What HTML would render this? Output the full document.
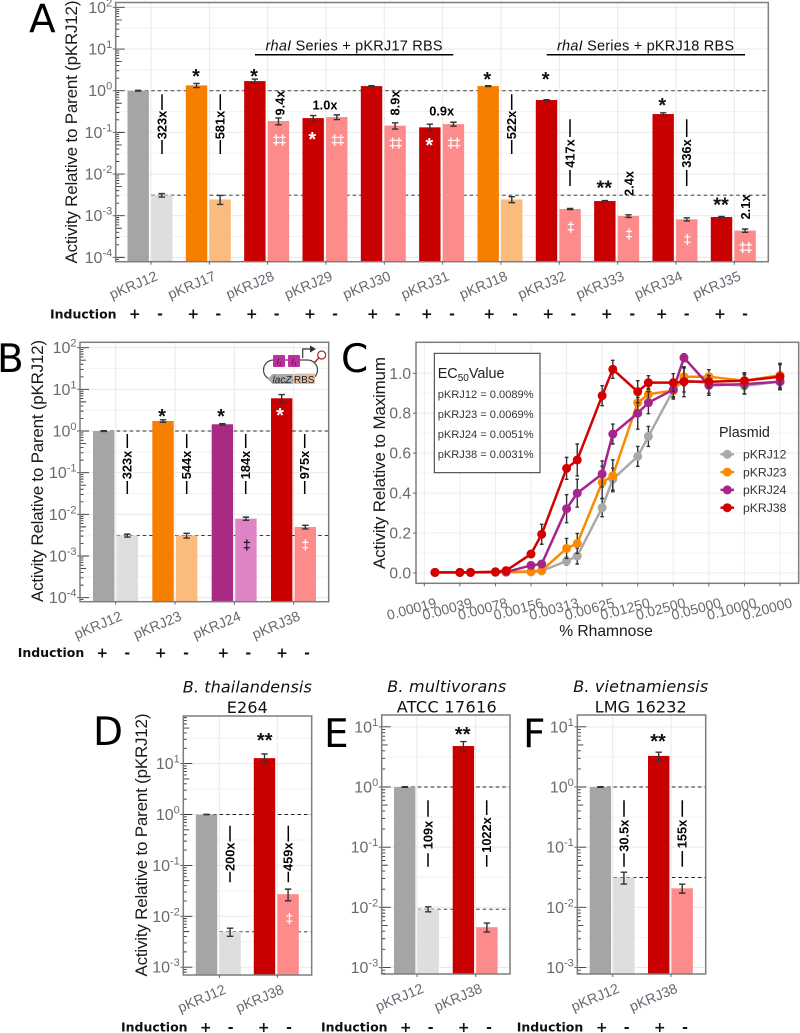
<!DOCTYPE html>
<html lang="en">
<head>
<meta charset="utf-8">
<title>Activity relative to parent, panels A–F</title>
<style>
html,body{margin:0;padding:0;background:#fff;width:800px;height:1033px;overflow:hidden}
svg{display:block;font-family:"Liberation Sans",sans-serif;filter:blur(0.3px)}
.letter{font-family:"DejaVu Sans",sans-serif;font-size:39px;fill:#000}
.ind{font-family:"DejaVu Sans",sans-serif;font-weight:700;font-size:12.5px;fill:#111}
.sign{font-family:"DejaVu Sans",sans-serif;font-weight:700;font-size:14px;fill:#111;text-anchor:middle}
.fold{font-weight:700;font-size:12.8px;fill:#000;text-anchor:middle}
.foldline{fill:none;stroke:#000;stroke-width:1.5}
.star{font-weight:700;font-size:20px;fill:#111;text-anchor:middle}
.wstar{font-weight:700;font-size:20px;fill:#fff;text-anchor:middle}
.dag{font-weight:700;font-size:14px;fill:#fff;text-anchor:middle;letter-spacing:-1.5px}
.ytitle{font-size:17px;fill:#1a1a1a;text-anchor:middle}
.series{font-size:14.5px;fill:#111;text-anchor:middle}
.head{font-family:"DejaVu Sans",sans-serif;font-size:16px;fill:#111;text-anchor:middle}
.headi{font-style:italic}
.ec{font-size:11.1px;fill:#333}
</style>
</head>
<body>
<svg id="figure" xmlns="http://www.w3.org/2000/svg" width="800" height="1033" viewBox="0 0 800 1033">
  <rect x="0" y="0" width="800" height="1033" fill="#fff"/>
  <g id="layer-panels"></g>

  <g>
    <text class="letter" x="29" y="32.5">A</text>
    <text class="letter" x="-3" y="372">B</text>
    <text class="letter" x="341" y="372">C</text>
    <text class="letter" x="93" y="745">D</text>
    <text class="letter" x="324" y="747">E</text>
    <text class="letter" x="523" y="747">F</text>
  </g>

  <g>
    <text class="ytitle" transform="rotate(-90 77 132)" x="77" y="132" textLength="263">Activity Relative to Parent (pKRJ12)</text>
    <text class="ytitle" transform="rotate(-90 43 471)" x="43" y="471" textLength="262">Activity Relative to Parent (pKRJ12)</text>
    <text class="ytitle" transform="rotate(-90 385 463)" x="385" y="463" textLength="212">Activity Relative to Maximum</text>
    <text class="ytitle" transform="rotate(-90 147 845)" x="147" y="845" textLength="263">Activity Relative to Parent (pKRJ12)</text>
    <text class="ytitle" style="font-size:15.6px" x="606" y="636">% Rhamnose</text>
  </g>

  <g>
    <text class="series" x="354" y="50.5" textLength="177"><tspan font-style="italic">rhaI</tspan> Series + pKRJ17 RBS</text>
    <path d="M255 54.7H453.3" stroke="#000" stroke-width="1.5" fill="none"/>
    <text class="series" x="645.5" y="50.5" textLength="177"><tspan font-style="italic">rhaI</tspan> Series + pKRJ18 RBS</text>
    <path d="M546.7 54.7H745" stroke="#000" stroke-width="1.5" fill="none"/>
  </g>

  <g>
    <text class="head headi" x="247.3" y="692.5" textLength="129">B. thailandensis</text>
    <text class="head" x="247.3" y="713" textLength="41">E264</text>
    <text class="head headi" x="446.7" y="692" textLength="119">B. multivorans</text>
    <text class="head" x="446.7" y="712.5" textLength="100">ATCC 17616</text>
    <text class="head headi" x="640.7" y="692" textLength="135">B. vietnamiensis</text>
    <text class="head" x="640.7" y="712.5" textLength="92">LMG 16232</text>
  </g>

  <g>
    <path class="foldline" d="M162 94.3V110M162 140V154"/>
    <text class="fold" transform="rotate(-90 166.3 125)" x="166.3" y="125">323x</text>
    <path class="foldline" d="M220.3 94.3V110M220.3 140V154"/>
    <text class="fold" transform="rotate(-90 224.6 125)" x="224.6" y="125">581x</text>
    <text class="fold" transform="rotate(-90 284.3 103)" x="284.3" y="103">9.4x</text>
    <text class="fold" x="325" y="109.5">1.0x</text>
    <text class="fold" transform="rotate(-90 399.3 103)" x="399.3" y="103">8.9x</text>
    <text class="fold" x="441.7" y="115.5">0.9x</text>
    <path class="foldline" d="M511.7 94.3V110M511.7 140V154"/>
    <text class="fold" transform="rotate(-90 516 125)" x="516" y="125">522x</text>
    <path class="foldline" d="M570 119.3V137M570 170V186"/>
    <text class="fold" transform="rotate(-90 574.3 153.5)" x="574.3" y="153.5">417x</text>
    <text class="fold" transform="rotate(-90 633.3 183.5)" x="633.3" y="183.5">2.4x</text>
    <path class="foldline" d="M686.7 119.3V137M686.7 170V186"/>
    <text class="fold" transform="rotate(-90 691 153.5)" x="691" y="153.5">336x</text>
    <text class="fold" transform="rotate(-90 750 207)" x="750" y="207">2.1x</text>

    <path class="foldline" d="M127.3 434V448M127.3 481V494"/>
    <text class="fold" transform="rotate(-90 131.6 465)" x="131.6" y="465">323x</text>
    <path class="foldline" d="M186.7 434V448M186.7 481V494"/>
    <text class="fold" transform="rotate(-90 191 465)" x="191" y="465">544x</text>
    <path class="foldline" d="M245.7 434V448M245.7 481V494"/>
    <text class="fold" transform="rotate(-90 250 465)" x="250" y="465">184x</text>
    <path class="foldline" d="M304.7 434V448M304.7 481V494"/>
    <text class="fold" transform="rotate(-90 309 465)" x="309" y="465">975x</text>

    <path class="foldline" d="M230 825.7V841.5M230 871.7V882.3"/>
    <text class="fold" transform="rotate(-90 234.3 856.7)" x="234.3" y="856.7">200x</text>
    <path class="foldline" d="M288.3 825.7V841.5M288.3 871.7V882.3"/>
    <text class="fold" transform="rotate(-90 292.6 856.7)" x="292.6" y="856.7">459x</text>

    <path class="foldline" d="M428 800.3V816.7M428 853.3V866.7"/>
    <text class="fold" transform="rotate(-90 432.3 835)" x="432.3" y="835">109x</text>
    <path class="foldline" d="M486.7 800.3V815M486.7 855V866.7"/>
    <text class="fold" transform="rotate(-90 491 835)" x="491" y="835">1022x</text>

    <path class="foldline" d="M624 800.3V816.7M624 853.3V866.7"/>
    <text class="fold" transform="rotate(-90 628.3 835.7)" x="628.3" y="835.7">30.5x</text>
    <path class="foldline" d="M682.3 800.3V816.7M682.3 851V866.7"/>
    <text class="fold" transform="rotate(-90 686.6 834)" x="686.6" y="834">155x</text>
  </g>

  <g>
    <text class="star" x="196" y="83">*</text>
    <text class="star" x="254" y="83">*</text>
    <text class="wstar" x="312.3" y="146">*</text>
    <text class="wstar" x="429.3" y="152">*</text>
    <text class="star" x="487.3" y="86">*</text>
    <text class="star" x="545.7" y="86">*</text>
    <text class="star" x="604.3" y="194.5">**</text>
    <text class="star" x="662.3" y="112">*</text>
    <text class="star" x="721" y="211.5">**</text>
    <text class="star" x="162" y="423">*</text>
    <text class="star" x="221" y="423">*</text>
    <text class="wstar" x="280" y="422">*</text>
    <text class="star" x="264.7" y="747">**</text>
    <text class="star" x="462.7" y="741">**</text>
    <text class="star" x="658" y="748">**</text>

    <text class="dag" x="278.7" y="144.5">‡‡</text>
    <text class="dag" x="337" y="144.5">‡‡</text>
    <text class="dag" x="395" y="147.5">‡‡</text>
    <text class="dag" x="453.3" y="147.5">‡‡</text>
    <text class="dag" x="570" y="231.5">‡</text>
    <text class="dag" x="628.3" y="238.5">‡</text>
    <text class="dag" x="686.7" y="244">‡</text>
    <text class="dag" x="745" y="252">‡‡</text>
    <text class="dag" style="fill:#111" x="246" y="549.5">‡</text>
    <text class="dag" x="304.7" y="549.5">‡</text>
    <text class="dag" x="288.7" y="923">‡</text>
  </g>

  <g>
    <text class="ind" x="50" y="318.5">Induction</text>
    <text class="sign" x="134.7" y="318.7">+</text><text class="sign" x="160" y="318.7">-</text>
    <text class="sign" x="193.3" y="318.7">+</text><text class="sign" x="218.3" y="318.7">-</text>
    <text class="sign" x="251.7" y="318.7">+</text><text class="sign" x="276.7" y="318.7">-</text>
    <text class="sign" x="310" y="318.7">+</text><text class="sign" x="335" y="318.7">-</text>
    <text class="sign" x="372.7" y="318.7">+</text><text class="sign" x="397.7" y="318.7">-</text>
    <text class="sign" x="426.7" y="318.7">+</text><text class="sign" x="452" y="318.7">-</text>
    <text class="sign" x="489.3" y="318.7">+</text><text class="sign" x="515" y="318.7">-</text>
    <text class="sign" x="548.3" y="318.7">+</text><text class="sign" x="573.3" y="318.7">-</text>
    <text class="sign" x="606.7" y="318.7">+</text><text class="sign" x="632.3" y="318.7">-</text>
    <text class="sign" x="661.7" y="318.7">+</text><text class="sign" x="686.7" y="318.7">-</text>
    <text class="sign" x="720" y="318.7">+</text><text class="sign" x="745" y="318.7">-</text>
  </g>
  <g>
    <text class="ind" x="17.7" y="657">Induction</text>
    <text class="sign" x="102.3" y="657.3">+</text><text class="sign" x="127.3" y="657.3">-</text>
    <text class="sign" x="160.7" y="657.3">+</text><text class="sign" x="186" y="657.3">-</text>
    <text class="sign" x="223.3" y="657.3">+</text><text class="sign" x="248.3" y="657.3">-</text>
    <text class="sign" x="282" y="657.3">+</text><text class="sign" x="307" y="657.3">-</text>
  </g>
  <g>
    <text class="ind" x="121" y="1031.5">Induction</text>
    <text class="sign" x="205.7" y="1032">+</text><text class="sign" x="230.7" y="1032">-</text>
    <text class="sign" x="263.7" y="1032">+</text><text class="sign" x="289" y="1032">-</text>
  </g>
  <g>
    <text class="ind" x="321" y="1031.5">Induction</text>
    <text class="sign" x="405.7" y="1032">+</text><text class="sign" x="430.7" y="1032">-</text>
    <text class="sign" x="463.7" y="1032">+</text><text class="sign" x="489" y="1032">-</text>
  </g>
  <g>
    <text class="ind" x="516.7" y="1031.5">Induction</text>
    <text class="sign" x="601.7" y="1032">+</text><text class="sign" x="626.7" y="1032">-</text>
    <text class="sign" x="659.7" y="1032">+</text><text class="sign" x="685" y="1032">-</text>
  </g>

  <g>
    <rect x="263.5" y="360" width="54" height="20" rx="10" fill="none" stroke="#444" stroke-width="1.2"/>
    <rect x="273" y="355" width="12" height="12" rx="1" fill="#bf2f9f"/>
    <text x="279" y="364.5" font-size="8" font-style="italic" text-anchor="middle" fill="#222">I₁</text>
    <rect x="288" y="355" width="12" height="12" rx="1" fill="#bf2f9f"/>
    <text x="294" y="364.5" font-size="8" font-style="italic" text-anchor="middle" fill="#222">I₁</text>
    <path d="M302.7 358V349H311" fill="none" stroke="#333" stroke-width="1.2"/>
    <path d="M310 345.5L316 349L310 352.5Z" fill="#333"/>
    <circle cx="321.7" cy="355" r="4" fill="#fff" stroke="#a32a2a" stroke-width="1.2"/>
    <path d="M318.8 358L314.5 362.5" fill="none" stroke="#a32a2a" stroke-width="1.5"/>
    <path d="M267.5 379L272.5 374H293V384H272.5Z" fill="#ababab"/>
    <text x="282" y="383" font-size="10" font-style="italic" text-anchor="middle" fill="#222">lacZ</text>
    <rect x="293.5" y="373.5" width="21.5" height="10.5" rx="1.5" fill="#dcbfa5"/>
    <text x="304.2" y="383" font-size="10" text-anchor="middle" fill="#222">RBS</text>
  </g>

  <g id="layer-inset">
    <rect x="434.3" y="353.3" width="105.7" height="119.4" fill="#fff" stroke="#333" stroke-width="1"/>
    <text x="437.7" y="378" font-size="14.4" fill="#222">EC<tspan font-size="10" dy="3">50</tspan><tspan dy="-3">Value</tspan></text>
    <text class="ec" x="437.7" y="398">pKRJ12 = 0.0089%</text>
    <text class="ec" x="437.7" y="418">pKRJ23 = 0.0069%</text>
    <text class="ec" x="437.7" y="438">pKRJ24 = 0.0051%</text>
    <text class="ec" x="437.7" y="458">pKRJ38 = 0.0031%</text>
  </g>
  <g id="layer-legend">
    <text x="719" y="437" font-size="14.3" fill="#222">Plasmid</text>
  </g>
</svg>

<script>
/* ---------- Panel A data ---------- */
const panelACategories = ["pKRJ12","pKRJ17","pKRJ28","pKRJ29","pKRJ30","pKRJ31","pKRJ18","pKRJ32","pKRJ33","pKRJ34","pKRJ35"];
const panelAInduced = [1.0,1.34,1.70,0.22,1.29,0.132,1.29,0.597,0.00225,0.275,0.00093];
const panelAUninduced = [0.0031,0.00246,0.187,0.233,0.145,0.158,0.00246,0.00145,0.00098,0.00082,0.00044];
const panelAInducedErr = [0.02,0.15,0.2,0.033,0.03,0.025,0.03,0.012,0.00006,0.02,0.00003];
const panelAUninducedErr = [0.0003,0.0006,0.035,0.03,0.025,0.017,0.0004,0.00004,0.00007,0.00007,0.00004];
const panelAExponents = [2,1,0,-1,-2,-3,-4];
const panelAColors = ["gray","orange","red","red","red","red","orange","red","red","red","red"];

/* ---------- Panel B data ---------- */
const panelBCategories = ["pKRJ12","pKRJ23","pKRJ24","pKRJ38"];
const panelBInduced = [1.0,1.74,1.45,6.1];
const panelBUninduced = [0.0031,0.0031,0.00787,0.00496];
const panelBInducedErr = [0.02,0.12,0.05,1.4];
const panelBUninducedErr = [0.00025,0.0004,0.0007,0.0005];
const panelBExponents = [2,1,0,-1,-2,-3,-4];
const panelBColors = ["gray","orange","purple","red"];

/* ---------- Panel C data ---------- */
const doseLabels = ["0.00019","0.00039","0.00078","0.00156","0.00313","0.00625","0.01250","0.02500","0.05000","0.10000","0.20000"];
const doseSteps = [0.3,1,1.3,2,2.3,3,3.3,4,4.3,5,5.3,6,6.3,7,7.3,8,9,10];
const activityTicks = [0,0.2,0.4,0.6,0.8,1.0];
const plasmidNames = ["pKRJ12","pKRJ23","pKRJ24","pKRJ38"];
const activityPKRJ12 = [.003,.003,.003,.003,.004,.005,.01,.06,.085,.327,.47,.584,.684,.916,.966,.95,.937,.958];
const activityPKRJ23 = [.003,.003,.003,.004,.005,.008,.012,.123,.148,.454,.487,.853,.895,.913,.983,.983,.963,.99];
const activityPKRJ24 = [.003,.003,.003,.005,.005,.038,.045,.322,.40,.496,.696,.80,.853,.918,1.078,.94,.946,.958];
const activityPKRJ38 = [.003,.003,.003,.006,.012,.095,.194,.524,.566,.888,1.02,.908,.953,.953,.958,.958,.963,.983];
const errorPKRJ12 = [0,0,0,0,0,0,.005,.02,.04,.045,.055,.05,.05,.045,.06,.05,.04,.04];
const errorPKRJ23 = [0,0,0,.002,.002,.005,.005,.05,.05,.08,.08,.06,.03,.03,.045,.035,.03,.06];
const errorPKRJ24 = [0,0,0,.003,.003,.01,.01,.07,.07,.065,.05,.08,.055,.04,.02,.05,.05,.04];
const errorPKRJ38 = [0,0,0,.003,.004,.01,.05,.055,.08,.05,.045,.055,.035,.045,.075,.03,.04,.06];

/* ---------- Panels D, E, F data ---------- */
const panelDCategories = ["pKRJ12","pKRJ38"];
const panelDInduced = [1.0,12.8];
const panelDUninduced = [0.00495,0.0272];
const panelDInducedErr = [0.01,2.7];
const panelDUninducedErr = [0.0009,0.007];
const panelDExponents = [1,0,-1,-2,-3];

const panelECategories = ["pKRJ12","pKRJ38"];
const panelEInduced = [1.0,4.8];
const panelEUninduced = [0.0093,0.00467];
const panelEInducedErr = [0.01,0.9];
const panelEUninducedErr = [0.0009,0.0008];
const panelEExponents = [1,0,-1,-2,-3];

const panelFCategories = ["pKRJ12","pKRJ38"];
const panelFInduced = [1.0,3.29];
const panelFUninduced = [0.0313,0.0207];
const panelFInducedErr = [0.01,0.5];
const panelFUninducedErr = [0.007,0.0035];
const panelFExponents = [1,0,-1,-2,-3];
const twoBarColors = ["gray","red"];

/* ---------- styling ---------- */
const barFill = {
  gray:   {on:"#a5a5a5", off:"#dedede"},
  orange: {on:"#f67f00", off:"#fbbb7d"},
  red:    {on:"#c80000", off:"#fd8b8b"},
  purple: {on:"#a92a85", off:"#de84c5"}
};
const lineColor = {pKRJ12:"#a9a9a9", pKRJ23:"#fb8a00", pKRJ24:"#a8248c", pKRJ38:"#d40000"};
const NS = "http://www.w3.org/2000/svg";
const panelsLayer = document.getElementById("layer-panels");

function make(tag, attrs, parent) {
  const node = document.createElementNS(NS, tag);
  for (const key in attrs) node.setAttribute(key, attrs[key]);
  parent.appendChild(node);
  return node;
}

function drawFrame(group, p, key) {
  const border = make("rect", {x:p.left, y:p.top, width:p.right-p.left, height:p.bottom-p.top, fill:"none", stroke:"#7d7d7d", "stroke-width":1.5}, group);
  
  
}

function errorBar(group, x, yHi, yLo, cap, key) {
  const bar = make("path", {d:"M"+(x-cap)+" "+yHi+"H"+(x+cap)+"M"+x+" "+yHi+"V"+yLo+"M"+(x-cap)+" "+yLo+"H"+(x+cap), fill:"none", stroke:"#333", "stroke-width":1.4}, group);
  
  
}

function drawBarPanel(p) {
  const group = make("g", {}, panelsLayer);
  
  

  const yScale = v => p.yOne - p.decade * Math.log10(v);
  const xScale = i => p.x0 + i * p.step;
  const inside = y => y >= p.top && y <= p.bottom;

  /* minor and major grid */
  let minor = "", major = "";
  for (let d = -6; d <= 3; d++) {
    const yMid = yScale(Math.pow(10, d + 0.5));
    if (inside(yMid)) minor += "M"+p.left+" "+yMid+"H"+p.right;
  }
  p.exponents.forEach(e => { major += "M"+p.left+" "+yScale(Math.pow(10,e))+"H"+p.right; });
  p.categories.forEach((c,i) => { major += "M"+xScale(i)+" "+p.top+"V"+p.bottom; });
  const minorGrid = make("path", {d:minor, stroke:"#f3f3f3", "stroke-width":1, fill:"none"}, group);
  
  
  const majorGrid = make("path", {d:major, stroke:"#e9e9e9", "stroke-width":1, fill:"none"}, group);
  
  

  /* parent reference lines */
  const firstX = xScale(0) + p.onOffset;
  const refOn = make("path", {d:"M"+firstX+" "+yScale(p.induced[0])+"H"+p.right, stroke:p.refOnColor, "stroke-width":p.refOnWidth, "stroke-dasharray":"3.5 3", fill:"none"}, group);
  
  
  const refOff = make("path", {d:"M"+firstX+" "+yScale(p.uninduced[0])+"H"+p.right, stroke:"#222", "stroke-width":0.9, "stroke-dasharray":"3.5 3", fill:"none"}, group);
  
  

  /* bars and error bars */
  p.categories.forEach((cat, i) => {
    const cx1 = xScale(i) + p.onOffset;
    const cx2 = xScale(i) + p.offOffset;
    const y1 = yScale(p.induced[i]);
    const y2 = yScale(p.uninduced[i]);
    const barOn = make("rect", {x:cx1-10.7, y:y1, width:21.4, height:p.bottom-y1, fill:barFill[p.colors[i]].on}, group);
    
    
    const barOff = make("rect", {x:cx2-10.7, y:y2, width:21.4, height:p.bottom-y2, fill:barFill[p.colors[i]].off}, group);
    
    
    errorBar(group, cx1, yScale(p.induced[i]+p.inducedErr[i]), yScale(Math.max(p.induced[i]-p.inducedErr[i],1e-6)), 3.2, cat+"-induced");
    errorBar(group, cx2, yScale(p.uninduced[i]+p.uninducedErr[i]), yScale(Math.max(p.uninduced[i]-p.uninducedErr[i],1e-6)), 3.2, cat+"-uninduced");
  });

  /* log ticks inside the panel */
  let ticks = "";
  for (let d = -6; d <= 3; d++) {
    for (let m = 1; m <= 9; m++) {
      const y = yScale(m * Math.pow(10, d));
      if (!inside(y)) continue;
      const len = m === 1 ? 9 : (m === 5 ? 6 : 3.5);
      ticks += "M"+p.left+" "+y+"h"+len;
    }
  }
  const logTicks = make("path", {d:ticks, stroke:"#333", "stroke-width":0.9, fill:"none"}, group);
  
  

  drawFrame(group, p, p.key);

  /* y axis labels */
  p.exponents.forEach(e => {
    const y = yScale(Math.pow(10, e));
    const tick = make("path", {d:"M"+(p.left-3)+" "+y+"H"+p.left, stroke:"#666", "stroke-width":1, fill:"none"}, group);
    
    
    const label = make("text", {x:p.left-3.5, y:y+5.5, "text-anchor":"end", "font-size":16, fill:"#6a6a6a"}, group);
    
    
    const base = make("tspan", {}, label);
    base.textContent = "10";
    const sup = make("tspan", {"font-size":11, dy:-6.5}, label);
    sup.textContent = String(e);
  });

  /* x axis labels */
  p.categories.forEach((cat, i) => {
    const x = xScale(i);
    const tick = make("path", {d:"M"+x+" "+p.bottom+"v3", stroke:"#666", "stroke-width":1, fill:"none"}, group);
    
    
    const tx = x + 7.5, ty = p.bottom + 18;
    const label = make("text", {x:tx, y:ty, "text-anchor":"end", "font-size":14.2, fill:"#656a72", transform:"rotate(-23 "+tx+" "+ty+")"}, group);
    
    
    label.textContent = cat;
  });
}

drawBarPanel({key:"a", left:115.7, right:768.3, top:2.5, bottom:261.7, yOne:90.7, decade:41.67, x0:151, step:58.33, onOffset:-12.8, offOffset:10.8,
  categories:panelACategories, induced:panelAInduced, uninduced:panelAUninduced, inducedErr:panelAInducedErr, uninducedErr:panelAUninducedErr, exponents:panelAExponents, colors:panelAColors, refOnColor:"#555", refOnWidth:1.2});
drawBarPanel({key:"b", left:80, right:328.7, top:342.3, bottom:601.7, yOne:431, decade:41.67, x0:115.7, step:59.33, onOffset:-12, offOffset:11.6,
  categories:panelBCategories, induced:panelBInduced, uninduced:panelBUninduced, inducedErr:panelBInducedErr, uninducedErr:panelBUninducedErr, exponents:panelBExponents, colors:panelBColors, refOnColor:"#555", refOnWidth:1.2});
drawBarPanel({key:"d", left:183.3, right:311.7, top:716, bottom:975, yOne:814.5, decade:50.9, x0:219.3, step:58, onOffset:-12.8, offOffset:10.8,
  categories:panelDCategories, induced:panelDInduced, uninduced:panelDUninduced, inducedErr:panelDInducedErr, uninducedErr:panelDUninducedErr, exponents:panelDExponents, colors:twoBarColors, refOnColor:"#222", refOnWidth:0.9});
drawBarPanel({key:"e", left:381.7, right:510, top:715, bottom:974, yOne:787, decade:60.15, x0:417, step:58.7, onOffset:-12.3, offOffset:11.2,
  categories:panelECategories, induced:panelEInduced, uninduced:panelEUninduced, inducedErr:panelEInducedErr, uninducedErr:panelEUninducedErr, exponents:panelEExponents, colors:twoBarColors, refOnColor:"#222", refOnWidth:0.9});
drawBarPanel({key:"f", left:577.3, right:705.7, top:715, bottom:974, yOne:787, decade:60.15, x0:612.7, step:58.3, onOffset:-12.3, offOffset:11.2,
  categories:panelFCategories, induced:panelFInduced, uninduced:panelFUninduced, inducedErr:panelFInducedErr, uninducedErr:panelFUninducedErr, exponents:panelFExponents, colors:twoBarColors, refOnColor:"#222", refOnWidth:0.9});

/* ---------- Panel C dose-response chart ---------- */
(function drawDoseChart() {
  const p = {left:416, right:798.7, top:342.3, bottom:583.3};
  const xDose = step => 424.3 + 35.57 * step;
  const yActivity = v => 573 - 199.7 * v;
  const group = make("g", {}, panelsLayer);
  
  

  let minor = "", major = "";
  activityTicks.forEach((t, i) => {
    major += "M"+p.left+" "+yActivity(t)+"H"+p.right;
    if (i < activityTicks.length - 1) minor += "M"+p.left+" "+yActivity(t+0.1)+"H"+p.right;
  });
  doseLabels.forEach((d, i) => { major += "M"+xDose(i)+" "+p.top+"V"+p.bottom; });
  const minorGrid = make("path", {d:minor, stroke:"#f5f5f5", "stroke-width":1, fill:"none"}, group);
  
  
  const majorGrid = make("path", {d:major, stroke:"#ececec", "stroke-width":1, fill:"none"}, group);
  
  

  const seriesValues = [activityPKRJ12, activityPKRJ23, activityPKRJ24, activityPKRJ38];
  const seriesErrors = [errorPKRJ12, errorPKRJ23, errorPKRJ24, errorPKRJ38];
  plasmidNames.forEach((name, s) => {
    const values = seriesValues[s];
    const errors = seriesErrors[s];
    values.forEach((v, i) => {
      if (errors[i] > 0) errorBar(group, xDose(doseSteps[i]), yActivity(v+errors[i]), yActivity(v-errors[i]), 1.8, name+"-"+i);
    });
    const pts = values.map((v, i) => xDose(doseSteps[i]) + "," + yActivity(v)).join(" ");
    const line = make("polyline", {points:pts, fill:"none", stroke:lineColor[name], "stroke-width":2.5, "stroke-linejoin":"round"}, group);
    
    
    values.forEach((v, i) => {
      const dot = make("circle", {cx:xDose(doseSteps[i]), cy:yActivity(v), r:4.5, fill:lineColor[name]}, group);
      
      
    });
  });

  drawFrame(group, p, "c");

  activityTicks.forEach(t => {
    const y = yActivity(t);
    const tick = make("path", {d:"M"+(p.left-3)+" "+y+"H"+p.left, stroke:"#666", "stroke-width":1, fill:"none"}, group);
    
    
    const label = make("text", {x:p.left-5, y:y+5.5, "text-anchor":"end", "font-size":15.6, fill:"#6a6a6a"}, group);
    
    
    label.textContent = t.toFixed(1);
  });
  doseLabels.forEach((d, i) => {
    const x = xDose(i);
    const tick = make("path", {d:"M"+x+" "+p.bottom+"v3", stroke:"#666", "stroke-width":1, fill:"none"}, group);
    
    
    const tx = x + 13, ty = 607;
    const label = make("text", {x:tx, y:ty, "text-anchor":"end", "font-size":14, fill:"#656a72", transform:"rotate(-15 "+tx+" "+ty+")"}, group);
    
    
    label.textContent = d;
  });

  const legend = document.getElementById("layer-legend");
  plasmidNames.forEach((name, i) => {
    const y = 454.3 + i * 17.8;
    const keyLine = make("path", {d:"M720.5 "+y+"H734", stroke:lineColor[name], "stroke-width":2.5, fill:"none"}, legend);
    
    
    const keyDot = make("circle", {cx:727.3, cy:y, r:4.5, fill:lineColor[name]}, legend);
    
    
    const keyText = make("text", {x:743, y:y+4.3, "font-size":12.2, fill:"#333"}, legend);
    
    
    keyText.textContent = name;
  });
})();
</script>
</body>
</html>
